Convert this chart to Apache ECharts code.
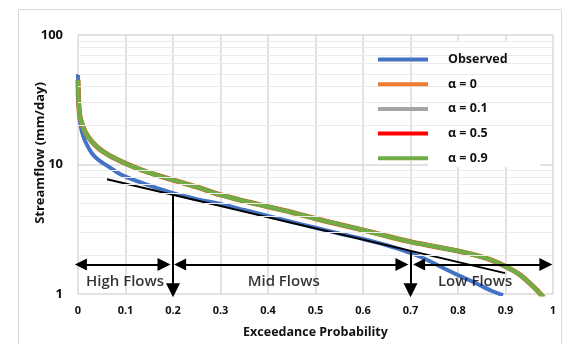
<!DOCTYPE html>
<html>
<head>
<meta charset="utf-8">
<script src="https://cdn.jsdelivr.net/npm/echarts@6/dist/echarts.min.js"></script>
<style>html,body{margin:0;padding:0;background:#fff;}#c{width:572px;height:344px;}</style>
</head>
<body>
<div id="c"></div>
<script>
// ---- data ----
const obsX = [0, 0.001, 0.003, 0.006, 0.01, 0.017, 0.03, 0.045, 0.065, 0.08, 0.1, 0.136, 0.165, 0.2, 0.25, 0.3, 0.35, 0.4, 0.45, 0.5, 0.55, 0.6, 0.65, 0.7, 0.74, 0.77, 0.8, 0.84, 0.87, 0.895];
const obsY = [50, 32, 23, 19.5, 17.0, 14.6, 12.1, 10.7, 9.6, 8.8, 8.06, 7.17, 6.6, 6.0, 5.4, 4.95, 4.45, 4.0, 3.6, 3.25, 2.93, 2.66, 2.38, 2.08, 1.8, 1.58, 1.4, 1.2, 1.06, 0.98];
const simX = [0, 0.001, 0.003, 0.006, 0.0097, 0.017, 0.03, 0.045, 0.065, 0.1, 0.136, 0.165, 0.2, 0.25, 0.3, 0.35, 0.4, 0.45, 0.5, 0.55, 0.6, 0.65, 0.7, 0.75, 0.8, 0.84, 0.87, 0.89, 0.91, 0.93, 0.95, 0.965, 0.98];
const alpha0Y  = [45, 33, 25, 22, 20, 17.3, 14.9, 13.2, 11.8, 10.2, 9.0, 8.3, 7.59, 6.7, 5.83, 5.22, 4.72, 4.27, 3.82, 3.45, 3.12, 2.8, 2.53, 2.33, 2.15, 1.98, 1.83, 1.7, 1.56, 1.41, 1.22, 1.08, 0.94];
const alpha01Y = [45, 33, 25, 22, 20, 17.3, 14.9, 13.2, 11.8, 10.2, 9.0, 8.3, 7.59, 6.7, 5.83, 5.22, 4.72, 4.27, 3.82, 3.45, 3.12, 2.8, 2.53, 2.33, 2.15, 1.98, 1.83, 1.7, 1.56, 1.41, 1.22, 1.08, 0.94];
const alpha05Y = [45, 33, 25, 22, 20, 17.3, 14.9, 13.2, 11.8, 10.2, 9.0, 8.3, 7.59, 6.7, 5.83, 5.22, 4.72, 4.27, 3.82, 3.45, 3.12, 2.8, 2.53, 2.33, 2.15, 1.98, 1.83, 1.7, 1.56, 1.41, 1.22, 1.08, 0.94];
const alpha09Y = [45, 33, 25, 22, 20, 17.3, 14.9, 13.2, 11.8, 10.2, 9.0, 8.3, 7.59, 6.7, 5.83, 5.22, 4.72, 4.27, 3.82, 3.45, 3.12, 2.8, 2.53, 2.33, 2.15, 1.98, 1.83, 1.7, 1.56, 1.41, 1.22, 1.08, 0.94];
const seriesNames = ['Observed', 'α = 0', 'α = 0.1', 'α = 0.5', 'α = 0.9'];
// tangent (black) line endpoints
const tangentX = [0.061, 0.899];
const tangentY = [7.68, 1.45];
// vertical arrows: x, start value (on tangent), end value
const vArrowX = [0.2, 0.7];
const vArrowTop = [5.83, 2.15];
const vArrowBottom = [1.07, 1.07];
// horizontal double arrows at flow level
const hArrowLevel = 1.69;
const hArrowFrom = [0.006, 0.215, 0.718];
const hArrowTo = [0.181, 0.682, 0.985];
// region labels
const regionNames = ['High Flows', 'Mid Flows', 'Low Flows'];
const regionX = [0.099, 0.433, 0.836];
const regionY = [1.235, 1.235, 1.25];
// minor log grid values
const minorGrid = [2, 3, 4, 5, 6, 7, 8, 9, 20, 30, 40, 50, 60, 70, 80, 90];
const xTicks = {min: 0, max: 1, interval: 0.1};
const yTicks = {min: 1, max: 100};

const colors = ['#4472C4', '#ED7D31', '#A5A5A5', '#FF0000', '#70AD47'];
const FONT = '"Open Sans", "Noto Sans", sans-serif';

function zip(xs, ys) { return xs.map((x, i) => [x, ys[i]]); }

const chart = echarts.init(document.getElementById('c'), null, {renderer: 'canvas'});
const lineBase = {type: 'line', showSymbol: false, symbol: 'none', smooth: 0.3, clip: true};

const option = {
  animation: false,
  textStyle: {fontFamily: FONT},
  grid: {left: 78, right: 19, top: 35, bottom: 47},
  xAxis: {
    type: 'value', min: xTicks.min, max: xTicks.max, interval: xTicks.interval,
    name: 'Exceedance Probability', nameLocation: 'middle', nameGap: 32,
    nameTextStyle: {fontFamily: FONT, fontSize: 12.5, fontWeight: 'bold', color: '#111'},
    axisLine: {show: false}, axisTick: {show: false},
    axisLabel: {fontFamily: FONT, fontSize: 11, fontWeight: 'bold', color: '#111', margin: 11},
    splitLine: {show: true, lineStyle: {color: '#d9d9d9', width: 1.5}}
  },
  yAxis: {
    type: 'log', logBase: 10, min: yTicks.min, max: yTicks.max,
    axisLine: {show: false}, axisTick: {show: false},
    axisLabel: {fontFamily: FONT, fontSize: 13, fontWeight: 'bold', color: '#111', margin: 15},
    splitLine: {show: true, lineStyle: {color: '#d9d9d9', width: 1.5}}
  },
  legend: {
    orient: 'vertical', left: 373, top: 48, z: 10,
    data: seriesNames,
    icon: 'rect', itemWidth: 50, itemHeight: 4, itemGap: 11.7,
    formatter: name => '{g|}' + name,
    textStyle: {fontFamily: FONT, fontSize: 12.5, fontWeight: 'bold', color: '#111',
      rich: {g: {width: 15}}}
  },
  graphic: [
    {type: 'rect', z: -10, shape: {x: 18.5, y: 9.5, width: 543, height: 345}, style: {fill: 'none', stroke: '#d9d9d9', lineWidth: 1}},
    {type: 'rect', z: 3, shape: {x: 428, y: 42, width: 112, height: 125}, style: {fill: '#fff'}},
    {type: 'text', z: 5, x: 40, y: 153, rotation: Math.PI / 2,
      style: {text: 'Streamflow (mm/day)', fontFamily: FONT, fontSize: 13, fontWeight: 'bold', fill: '#111', align: 'center', verticalAlign: 'middle'}}
  ],
  series: [
    {type: 'line', name: '_minor', data: [], silent: true,
      markLine: {silent: true, symbol: 'none', label: {show: false}, animation: false,
        lineStyle: {color: '#ebebeb', width: 1, type: 'solid'},
        data: minorGrid.map(v => ({yAxis: v}))}},
    Object.assign({}, lineBase, {name: seriesNames[0], data: zip(obsX, obsY), lineStyle: {color: colors[0], width: 4}, itemStyle: {color: colors[0]}, z: 3}),
    Object.assign({}, lineBase, {name: seriesNames[1], data: zip(simX, alpha0Y), lineStyle: {color: colors[1], width: 5.2}, itemStyle: {color: colors[1]}, z: 3}),
    Object.assign({}, lineBase, {name: seriesNames[2], data: zip(simX, alpha01Y), lineStyle: {color: colors[2], width: 4}, itemStyle: {color: colors[2]}, z: 3}),
    Object.assign({}, lineBase, {name: seriesNames[3], data: zip(simX, alpha05Y), lineStyle: {color: colors[3], width: 4}, itemStyle: {color: colors[3]}, z: 3}),
    Object.assign({}, lineBase, {name: seriesNames[4], data: zip(simX, alpha09Y), lineStyle: {color: colors[4], width: 4.4}, itemStyle: {color: colors[4]}, z: 3}),
    {type: 'line', name: '_tangent', data: zip(tangentX, tangentY), symbol: 'none', smooth: false,
      lineStyle: {color: '#000', width: 2}, z: 4, silent: true},
    {type: 'lines', name: '_vArrows', coordinateSystem: 'cartesian2d', clip: false, z: 5, silent: true,
      symbol: ['none', 'triangle'], symbolSize: [12, 14],
      lineStyle: {color: '#000', width: 2, opacity: 1}, itemStyle: {color: '#000'},
      data: vArrowX.map((x, i) => ({coords: [[x, vArrowTop[i]], [x, vArrowBottom[i]]]}))},
    {type: 'lines', name: '_hArrows', coordinateSystem: 'cartesian2d', clip: false, z: 5, silent: true,
      symbol: ['triangle', 'triangle'], symbolSize: [12, 13],
      lineStyle: {color: '#000', width: 2, opacity: 1}, itemStyle: {color: '#000'},
      data: hArrowFrom.map((x, i) => ({coords: [[x, hArrowLevel], [hArrowTo[i], hArrowLevel]]}))},
    {type: 'scatter', name: '_labels', symbolSize: 0, silent: true, z: 6, clip: false,
      data: regionNames.map((n, i) => ({name: n, value: [regionX[i], regionY[i]]})),
      label: {show: true, position: 'inside', formatter: p => p.name, fontFamily: FONT, fontSize: 15, fontWeight: 600, color: '#000'}}
  ]
};
chart.setOption(option);
</script>
</body>
</html>
